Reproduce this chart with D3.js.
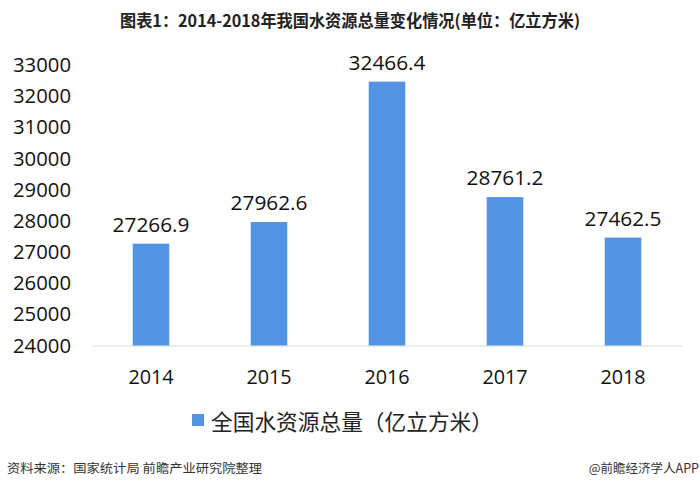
<!DOCTYPE html>
<html><head><meta charset="utf-8">
<script src="https://cdn.jsdelivr.net/npm/d3@7"></script>
<style>body{margin:0;background:#fff}svg{display:block}</style>
</head><body>
<svg id="c" width="700" height="489"></svg>
<script>
const categories = ["2014","2015","2016","2017","2018"];
const values = [27266.9, 27962.6, 32466.4, 28761.2, 27462.5];
const yTicks = [24000,25000,26000,27000,28000,29000,30000,31000,32000,33000];
const titleText = "图表1：2014-2018年我国水资源总量变化情况(单位：亿立方米)";
const legendText = "全国水资源总量（亿立方米）";
const sourceText = "资料来源：国家统计局 前瞻产业研究院整理";
const brandText = "@前瞻经济学人APP";

const svg = d3.select("#c");
const numFont = "'Open Sans', 'Liberation Sans', sans-serif";
const cjkFont = "'Noto Sans CJK SC', sans-serif";
const barColor = "#5294e3";

const x = d3.scaleBand().domain(categories).range([92, 682]).paddingInner(0.69).paddingOuter(0.345);
const y = d3.scaleLinear().domain([24000, 33000]).range([345.5, 65]);

// title
svg.append("text").attr("x", 350).attr("y", 27).attr("text-anchor", "middle")
  .attr("font-family", cjkFont).attr("font-weight", "bold").attr("font-size", 16.5)
  .attr("fill", "#222").attr("textLength", 460).attr("lengthAdjust", "spacingAndGlyphs")
  .text(titleText);

// y axis labels
const yAxis = d3.axisLeft(y).tickValues(yTicks).tickSize(0).tickPadding(0).tickFormat(d3.format("d"));
const gy = svg.append("g").attr("transform", "translate(71,0)").call(yAxis);
gy.select(".domain").remove();
gy.selectAll("text").attr("font-family", numFont).attr("font-size", 20.3).attr("fill", "#111");

// x axis
const xAxis = d3.axisBottom(x).tickSize(0).tickPadding(0);
const gx = svg.append("g").attr("transform", "translate(0,345.5)").call(xAxis);
gx.select(".domain").attr("stroke", "#d9d9d9").attr("stroke-width", 1.2);
gx.selectAll("text").attr("font-family", numFont).attr("font-size", 19.8).attr("fill", "#111")
  .attr("dy", null).attr("y", 38);

// bars
svg.append("g").selectAll("rect").data(values).join("rect")
  .attr("x", (d, i) => x(categories[i]))
  .attr("width", x.bandwidth())
  .attr("y", d => y(d))
  .attr("height", d => y(24000) - y(d))
  .attr("fill", barColor);

// labels
svg.append("g").selectAll("text").data(values).join("text")
  .attr("x", (d, i) => x(categories[i]) + x.bandwidth() / 2)
  .attr("y", d => y(d) - 12)
  .attr("text-anchor", "middle")
  .attr("font-family", numFont).attr("font-size", 20.8).attr("fill", "#111")
  .text(d => d3.format(".1f")(d));

// legend
svg.append("rect").attr("x", 192).attr("y", 414).attr("width", 12).attr("height", 12).attr("fill", barColor);
svg.append("text").attr("x", 211).attr("y", 430).attr("font-family", cjkFont).attr("font-size", 21.5)
  .attr("fill", "#222").attr("textLength", 282).attr("lengthAdjust", "spacingAndGlyphs").text(legendText);

// footer
svg.append("text").attr("x", 7).attr("y", 473).attr("font-family", cjkFont).attr("font-size", 12.5)
  .attr("fill", "#333").attr("textLength", 255).attr("lengthAdjust", "spacingAndGlyphs").text(sourceText);
svg.append("text").attr("x", 699).attr("y", 473).attr("text-anchor", "end").attr("font-family", cjkFont).attr("font-size", 12.5)
  .attr("fill", "#333").text(brandText);
</script>
</body></html>
